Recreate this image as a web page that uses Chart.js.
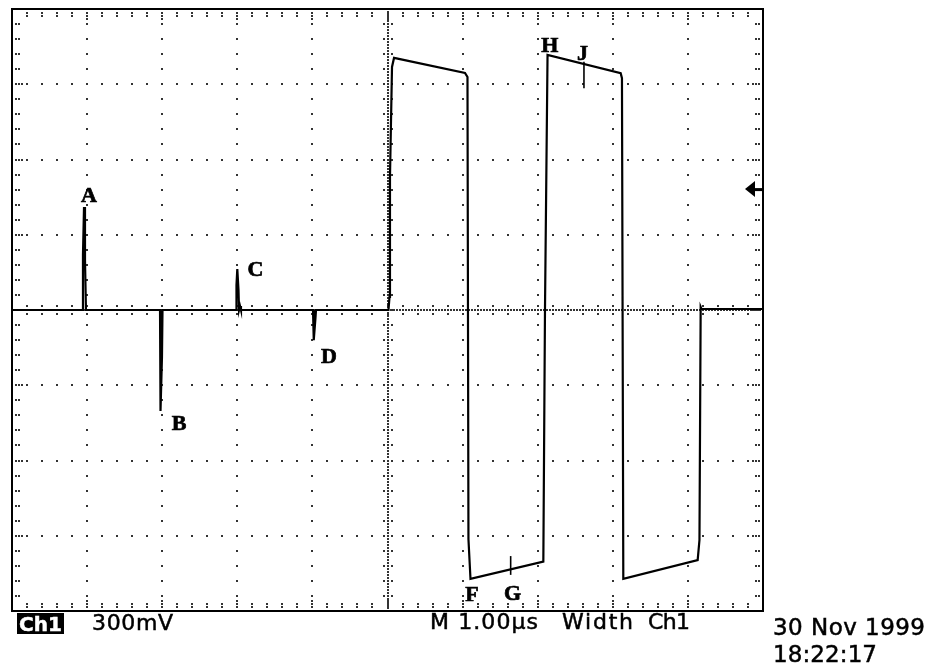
<!DOCTYPE html>
<html>
<head>
<meta charset="utf-8">
<title>Ch1 300mV - M 1.00us Width Ch1</title>
<script src="https://cdn.jsdelivr.net/npm/chart.js@4.4.1/dist/chart.umd.min.js"></script>
<style>
  html, body { margin: 0; padding: 0; background: #fff; }
  canvas { display: block; }
</style>
</head>
<body>
<canvas id="scopeChart" width="931" height="668"></canvas>
<script>
'use strict';

// trace of Ch1: time in us (1.00 us / div), level in mV (300 mV / div)
var traceTime = [
  0, 0.939, 0.945, 0.959, 0.972, 0.985,
  1.971, 1.975, 1.980, 1.997, 2.004,
  2.983, 2.989, 3.000, 3.016, 3.023, 3.036, 3.049,
  4.008, 4.015, 4.021, 4.041, 4.048,
  5.013, 5.027, 5.033, 5.060, 5.087, 6.032, 6.065, 6.078, 6.105,
  7.075, 7.097, 7.131, 8.105, 8.122, 8.140,
  9.130, 9.154, 9.170, 9.181, 10
];
var traceLevel = [
  0, 0, 219, 411, 199, 0,
  0, -211, -403, -187, 0,
  0, 100, 163, 80, 0, 16, 0,
  0, -60, -120, -32, 0,
  0, 52, 530, 969, 1005, 945, 929, -914, -1072,
  -1003, 0, 1017, 944, 924, -1072,
  -997, -917, 12, 4, 4
];

// cursor ticks at G and J
var cursorTime = [6.64, 7.616];
var cursorLow = [-1056, 884];
var cursorHigh = [-981, 990];

// letters written on the screen
var labelText = ['A', 'B', 'C', 'D', 'F', 'G', 'H', 'J'];
var labelTime = [1.025, 2.224, 3.242, 4.221, 6.125, 6.664, 7.160, 7.597];
var labelLevel = [458, -449, 165, -185, -1134, -1128, 1056, 1023];

// graticule divisions
var xDivisions = [0, 1, 2, 3, 4, 5, 6, 7, 8, 9, 10];
var yDivisions = [-1200, -900, -600, -300, 0, 300, 600, 900, 1200];

// trigger level marker on the right edge
var triggerLevel = 482;

function points(xs, ys) {
  return xs.map(function(x, i) { return { x: x, y: ys[i] }; });
}

function dot(ctx, x, y) {
  ctx.fillRect(Math.round(x) - 1, Math.round(y) - 1, 2, 2);
}

/** dotted graticule, border ticks and centre line crosses */
var graticule = {
  id: 'graticule',
  beforeDatasetsDraw: function(chart) {
    var ctx = chart.ctx, ca = chart.chartArea;
    var xs = chart.scales.x, ys = chart.scales.y;
    var nx = xDivisions.length - 1, ny = yDivisions.length - 1;
    var xStep = (xDivisions[nx] - xDivisions[0]) / nx;
    var yStep = (yDivisions[ny] - yDivisions[0]) / ny;
    var xc = xs.getPixelForValue(xDivisions[nx / 2]);
    var yc = ys.getPixelForValue(yDivisions[ny / 2]);
    var i, j, px, py;

    ctx.save();
    ctx.fillStyle = '#333';

    // vertical dotted lines
    for (i = 1; i < nx; i++) {
      px = xs.getPixelForValue(xDivisions[i]);
      var fineY = (i === nx / 2) ? 25 : 5;
      for (j = 1; j < ny * fineY; j++) {
        dot(ctx, px, ys.getPixelForValue(yDivisions[0] + j * yStep / fineY));
      }
    }
    // horizontal dotted lines
    for (i = 1; i < ny; i++) {
      py = ys.getPixelForValue(yDivisions[i]);
      var fineX = (i === ny / 2) ? 25 : 5;
      for (j = 1; j < nx * fineX; j++) {
        dot(ctx, xs.getPixelForValue(xDivisions[0] + j * xStep / fineX), py);
      }
    }
    // crosses on the centre lines
    for (j = 1; j < ny * 5; j++) {
      py = ys.getPixelForValue(yDivisions[0] + j * yStep / 5);
      dot(ctx, xc - 4, py);
      dot(ctx, xc + 4, py);
    }
    for (j = 1; j < nx * 5; j++) {
      px = xs.getPixelForValue(xDivisions[0] + j * xStep / 5);
      dot(ctx, px, yc - 4);
      dot(ctx, px, yc + 4);
    }
    // ticks on the border
    for (j = 1; j < nx * 5; j++) {
      px = xs.getPixelForValue(xDivisions[0] + j * xStep / 5);
      var nT = (j % 5 === 0) ? 3 : 2;
      for (var k = 1; k <= nT; k++) {
        dot(ctx, px, ca.top + 1 + k * 3);
        dot(ctx, px, ca.bottom - 1 - k * 3);
      }
    }
    for (j = 1; j < ny * 5; j++) {
      py = ys.getPixelForValue(yDivisions[0] + j * yStep / 5);
      var nL = (j % 5 === 0) ? 3 : 2;
      for (var m = 1; m <= nL; m++) {
        dot(ctx, ca.left + 1 + m * 3, py);
        dot(ctx, ca.right - 1 - m * 3, py);
      }
    }
    ctx.restore();
  },
  afterDatasetsDraw: function(chart) {
    var ctx = chart.ctx, ca = chart.chartArea;
    var xs = chart.scales.x, ys = chart.scales.y;

    ctx.save();
    ctx.strokeStyle = '#000';
    ctx.lineWidth = 2;
    ctx.strokeRect(ca.left, ca.top, ca.right - ca.left, ca.bottom - ca.top);

    // trigger arrow
    var ty = ys.getPixelForValue(triggerLevel);
    ctx.fillStyle = '#000';
    ctx.beginPath();
    ctx.moveTo(ca.right - 18, ty);
    ctx.lineTo(ca.right - 8, ty - 8);
    ctx.lineTo(ca.right - 8, ty + 8);
    ctx.closePath();
    ctx.fill();
    ctx.fillRect(ca.right - 9, ty - 1, 9, 3);

    // letters, a thin stroke makes them as heavy as the screen font
    ctx.font = 'bold 22px "Liberation Serif", serif';
    ctx.textAlign = 'center';
    ctx.textBaseline = 'alphabetic';
    ctx.lineWidth = 0.7;
    labelText.forEach(function(t, i) {
      var lx = xs.getPixelForValue(labelTime[i]);
      var ly = ys.getPixelForValue(labelLevel[i]) + 7;
      ctx.fillText(t, lx, ly);
      ctx.strokeText(t, lx, ly);
    });
    ctx.restore();
  }
};

/** stretches a text to a given width */
function fitText(ctx, text, x, baseline, width) {
  ctx.letterSpacing = '0px';
  var w = ctx.measureText(text).width;
  ctx.letterSpacing = ((width - w) / (text.length - 1)) + 'px';
  ctx.fillText(text, x, baseline);
  ctx.strokeText(text, x, baseline);
  ctx.letterSpacing = '0px';
}

/** status line below the screen */
var statusLine = {
  id: 'statusLine',
  afterDraw: function(chart) {
    var ctx = chart.ctx;
    ctx.save();
    ctx.textAlign = 'left';
    ctx.textBaseline = 'alphabetic';
    ctx.lineWidth = 0.5;

    ctx.fillStyle = '#000';
    ctx.fillRect(17, 613, 47, 21);
    ctx.fillStyle = '#fff';
    ctx.strokeStyle = '#fff';
    ctx.font = 'bold 20px "DejaVu Sans", sans-serif';
    fitText(ctx, 'Ch1', 19, 631, 43);

    ctx.fillStyle = '#000';
    ctx.strokeStyle = '#000';
    ctx.font = '22px "DejaVu Sans", sans-serif';
    fitText(ctx, '300mV', 92, 630, 81);
    fitText(ctx, 'M 1.00\u00b5s', 430, 629, 108);
    fitText(ctx, 'Width', 562, 629, 71);
    fitText(ctx, 'Ch1', 648, 629, 42);

    ctx.font = '23px "DejaVu Sans", sans-serif';
    fitText(ctx, '30 Nov 1999', 773, 635, 152);
    fitText(ctx, '18:22:17', 773, 662, 104);
    ctx.restore();
  }
};

var datasets = [{
  label: 'Ch1',
  data: points(traceTime, traceLevel),
  borderColor: '#000',
  borderWidth: 2.2
}];
cursorTime.forEach(function(t, i) {
  datasets.push({
    label: 'cursor ' + (i + 1),
    data: points([t, t], [cursorLow[i], cursorHigh[i]]),
    borderColor: '#000',
    borderWidth: 1.6
  });
});

var ctx = document.getElementById('scopeChart').getContext('2d');
new Chart(ctx, {
  type: 'line',
  data: { datasets: datasets },
  options: {
    responsive: false,
    animation: false,
    layout: { padding: { left: 12, top: 9, right: 168, bottom: 57 } },
    plugins: {
      legend: { display: false },
      tooltip: { enabled: false }
    },
    elements: {
      point: { radius: 0 },
      line: { tension: 0 }
    },
    scales: {
      x: { type: 'linear', min: xDivisions[0], max: xDivisions[xDivisions.length - 1], display: false },
      y: { type: 'linear', min: yDivisions[0], max: yDivisions[yDivisions.length - 1], display: false }
    }
  },
  plugins: [graticule, statusLine]
});
</script>
</body>
</html>
